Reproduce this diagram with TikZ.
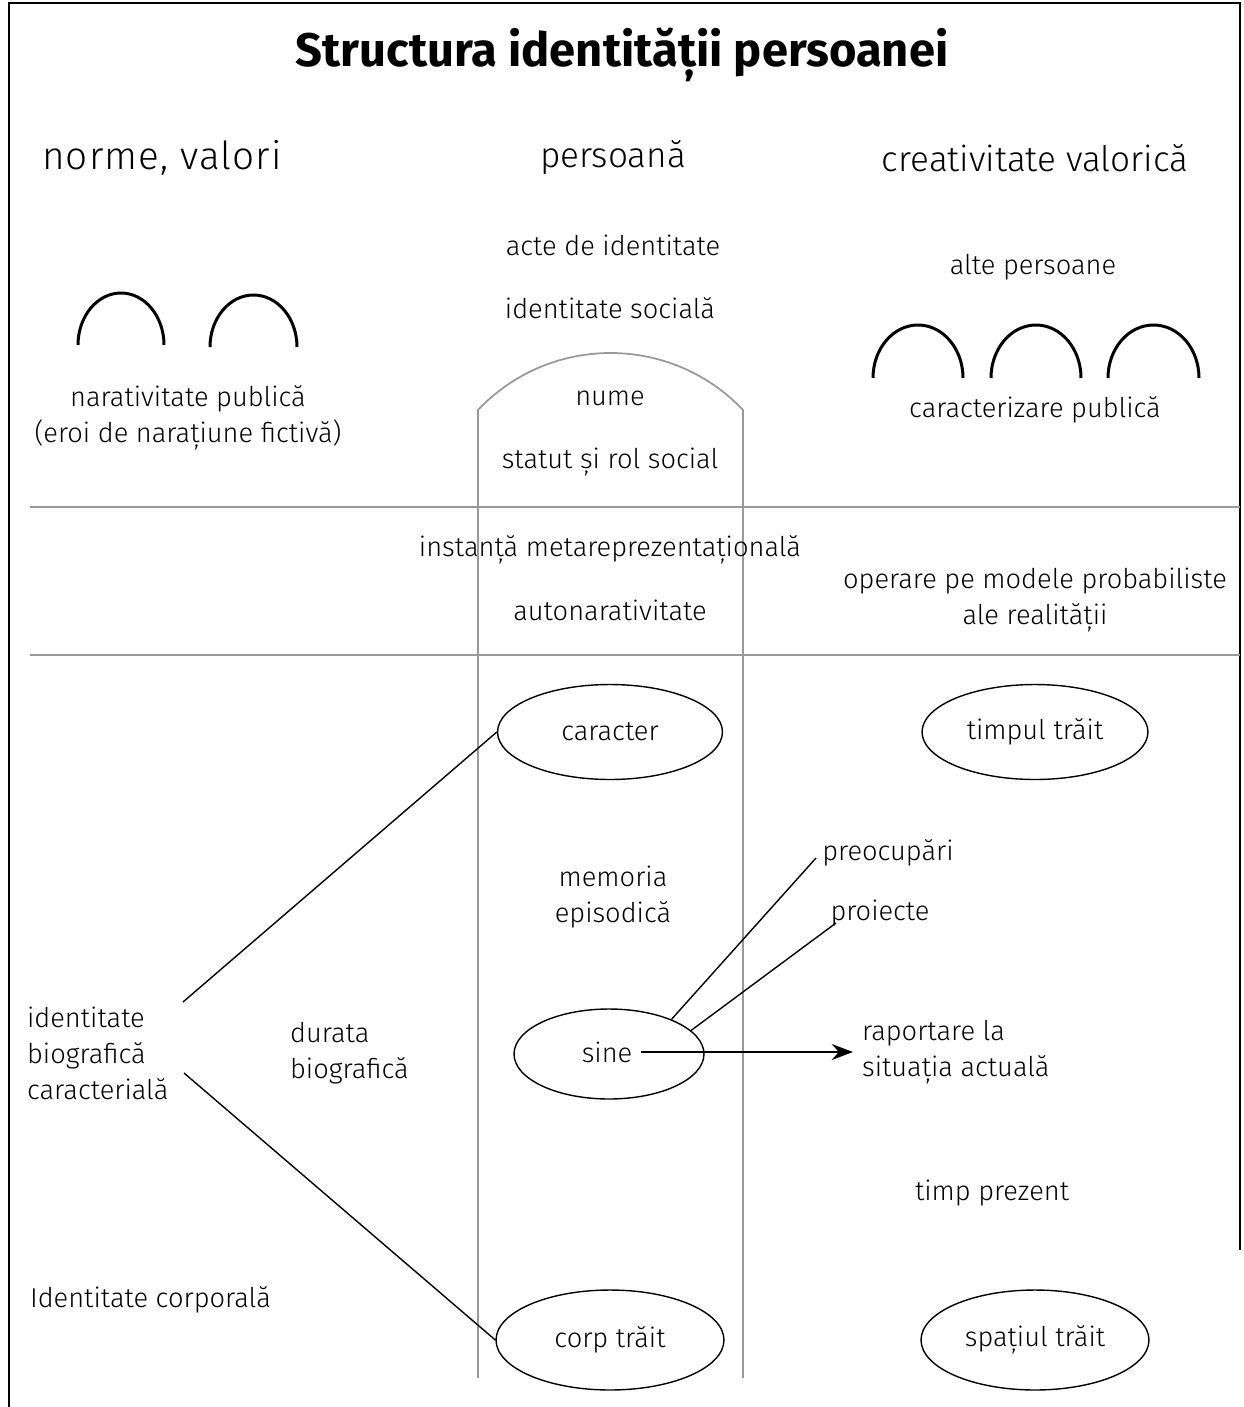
\documentclass[tikz,border=0pt]{standalone}
\usepackage{fontspec}
\setmainfont{Fira Sans}[UprightFont=* Light, BoldFont=* Bold]
\usetikzlibrary{shapes.geometric,arrows.meta}

\tikzset{
  txt/.style={font=\fontsize{15.5}{20.5}\selectfont, align=center, inner sep=1pt},
  txtl/.style={font=\fontsize{15.5}{20.5}\selectfont, align=left, inner sep=1pt},
  head/.style={font=\fontsize{20}{24}\selectfont},
  oval/.style={draw, ellipse, line width=0.8pt, inner sep=0pt, font=\fontsize{15.5}{20.5}\selectfont},
  arch/.style={line width=1.7pt},
  colline/.style={black!40, line width=1pt}
}

\begin{document}
\begin{tikzpicture}[x=0.02cm, y=-0.02cm]
\useasboundingbox (0,0) rectangle (1244,1407);

%draw the frame
\draw[line width=1pt] (9,1407) -- (9,3) -- (1240,3) -- (1240,1250);

%draw the title and the three headings
\node[font=\fontsize{26.8}{30}\selectfont\bfseries] (title) at (622,55) {Structura identității persoanei};
\node[font=\fontsize{22}{26}\selectfont] (norme) at (162,158) {\addfontfeature{LetterSpace=3}norme, valori};
\node[head] (pers) at (613,158) {persoană};
\node[head] (creat) at (1035,158) {creativitate valorică};

%draw the column of the person
\draw[colline] (478,1378) -- (478,410) .. controls (550,334) and (671,334) .. (743,410) -- (743,1378);

%draw the two separating lines
\draw[colline] (30,507) -- (1240,507);
\draw[colline] (30,655) -- (1240,655);

%draw the arches
\draw[arch] (78,345) arc[start angle=180, end angle=360, x radius=43, y radius=52];
\draw[arch] (210,347) arc[start angle=180, end angle=360, x radius=43.5, y radius=52];
\draw[arch] (873,378) arc[start angle=180, end angle=360, x radius=45, y radius=53];
\draw[arch] (991,378) arc[start angle=180, end angle=360, x radius=45, y radius=53];
\draw[arch] (1108,378) arc[start angle=180, end angle=360, x radius=45.5, y radius=53];

%upper texts
\node[txt] (acte) at (613,245) {acte de identitate};
\node[txt] (idsoc) at (610,308) {identitate socială};
\node[txt] (alte) at (1033,267) {alte persoane};
\node[txt] (narpub) at (188,418) {narativitate publică\\(eroi de narațiune fictivă)};
\node[txt] (carpub) at (1035,410) {caracterizare publică};
\node[txt] (nume) at (610,398) {nume};
\node[txt] (statut) at (610,462) {statut și rol social};

%middle texts
\node[txt] (inst) at (610,550) {instanță metareprezentațională};
\node[txt] (auto) at (610,610) {autonarativitate};
\node[txt] (oper) at (1035,600) {operare pe modele probabiliste\\ale realității};

%the ellipses
\node[oval, minimum width=4.5cm, minimum height=1.9cm] (caracter) at (610,732) {caracter};
\node[oval, minimum width=4.52cm, minimum height=1.9cm] (timpul) at (1035,732) {timpul trăit};
\node[oval, minimum width=3.8cm, minimum height=1.8cm] (sine) at (609,1054) {};
\node[oval, minimum width=4.56cm, minimum height=2.0cm] (corp) at (610,1340) {corp trăit};
\node[oval, minimum width=4.56cm, minimum height=2.0cm] (spatiul) at (1035,1340) {spațiul trăit};

%lower texts
\node[txt] (memoria) at (613,897) {memoria\\episodică};
\node[txt] (preoc) at (888,853) {preocupări};
\node[txt] (proiecte) at (880,913) {proiecte};
\node[txt] (sinetxt) at (607,1052) {sine};
\node[txtl, anchor=west] (raport) at (860,1052) {raportare la\\situația actuală};
\node[txtl, anchor=west] (idbio) at (25,1053) {identitate\\biografică\\caracterială};
\node[txtl, anchor=west] (durata) at (288,1053) {durata\\biografică};
\node[txt] (prezent) at (992,1193) {timp prezent};
\node[txtl, anchor=west] (idcorp) at (28,1300) {Identitate corporală};

%draw the connectors
\coordinate (bioup) at (183,1002);
\coordinate (biodown) at (184,1073);
\coordinate (preocend) at (816,858);
\coordinate (proiend) at (836,923);
\draw[line width=0.8pt] (bioup) -- (caracter.west);
\draw[line width=0.8pt] (biodown) -- (corp.west);
\draw[line width=0.8pt] (sine.29) -- (preocend);
\draw[line width=0.8pt] (sine.16) -- (proiend);
\draw[line width=1.5pt, -{Stealth[length=12pt, width=9pt]}] ([xshift=4pt]sinetxt.east) -- ([xshift=-4pt]raport.west |- sinetxt.east);

\end{tikzpicture}
\end{document}
